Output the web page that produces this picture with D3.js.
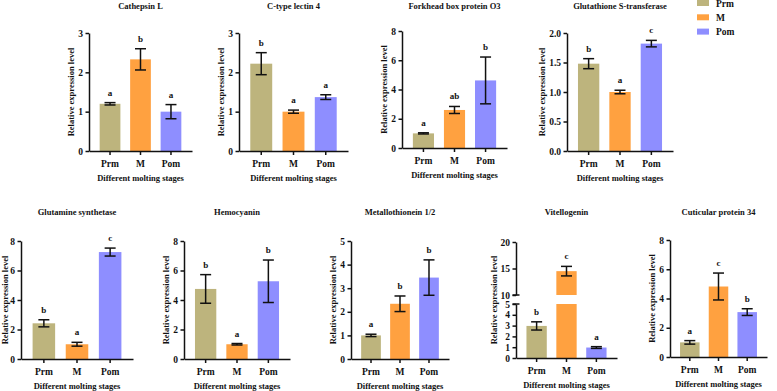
<!DOCTYPE html>
<html>
<head>
<meta charset="utf-8">
<script src="https://cdn.jsdelivr.net/npm/d3@7"></script>
<style>
  body { margin: 0; background: #fff; }
  svg text { font-family: "Liberation Serif", "Times New Roman", serif; font-weight: bold; fill: #111; }
</style>
</head>
<body>
<div id="chart"></div>
<script>
const stages = ['Prm', 'M', 'Pom']
const colors = ['#bdb47d', '#ffa140', '#8e8eff']

const genes = ['Cathepsin L', 'C-type lectin 4', 'Forkhead box protein O3', 'Glutathione S-transferase',
  'Glutamine synthetase', 'Hemocyanin', 'Metallothionein 1/2', 'Vitellogenin', 'Cuticular protein 34']

// mean per stage (Prm, M, Pom)
const means = [
  [1.2, 2.33, 1.0],
  [2.22, 1.0, 1.37],
  [1.0, 2.6, 4.62],
  [1.48, 1.0, 1.82],
  [2.42, 1.0, 7.25],
  [4.75, 1.0, 5.27],
  [1.0, 2.34, 3.45],
  [2.97, 14.5, 0.97],
  [1.0, 4.82, 3.07]
]
// error (+/-)
const errs = [
  [0.03, 0.27, 0.18],
  [0.28, 0.04, 0.06],
  [0.04, 0.24, 1.6],
  [0.085, 0.03, 0.055],
  [0.24, 0.13, 0.27],
  [0.97, 0.05, 1.44],
  [0.05, 0.33, 0.75],
  [0.38, 0.9, 0.08],
  [0.12, 0.92, 0.23]
]
const letters = [
  ['a', 'b', 'a'], ['b', 'a', 'a'], ['a', 'ab', 'b'], ['b', 'a', 'c'],
  ['b', 'a', 'c'], ['b', 'a', 'b'], ['a', 'b', 'b'], ['b', 'c', 'a'], ['a', 'c', 'b']
]
const yMax = [3, 3, 8, 2, 8, 8, 5, 20, 8]
const yTicks = [
  [0, 1, 2, 3], [0, 1, 2, 3], [0, 2, 4, 6, 8], [0, 0.5, 1, 1.5, 2],
  [0, 2, 4, 6, 8], [0, 2, 4, 6, 8], [0, 1, 2, 3, 4, 5], null, [0, 2, 4, 6, 8]
]
// broken axis for Vitellogenin
const lowTicks = [0, 1, 2, 3, 4, 5]
const highTicks = [10, 15, 20]

// panel layout: axis x start/end, y top/bottom, title baseline
const layout = [
  { x0: 89, x1: 192, top: 33, bot: 151, ty: 9 },
  { x0: 239, x1: 348, top: 33, bot: 151, ty: 9 },
  { x0: 402, x1: 507, top: 31, bot: 148, ty: 9 },
  { x0: 567, x1: 673, top: 33, bot: 151, ty: 9 },
  { x0: 21, x1: 133, top: 241, bot: 359, ty: 215 },
  { x0: 184, x1: 290, top: 241, bot: 359, ty: 215 },
  { x0: 351, x1: 449, top: 241, bot: 359, ty: 215 },
  { x0: 516, x1: 617, top: 242, bot: 358, ty: 215 },
  { x0: 670, x1: 767, top: 240, bot: 357, ty: 215 }
]

const svg = d3.select('#chart').append('svg')
  .attr('width', 777).attr('height', 391)

genes.forEach((gene, i) => {
  const L = layout[i]
  const g = svg.append('g')
  const x = d3.scaleBand().domain(stages).range([L.x0, L.x1]).paddingInner(0.32).paddingOuter(0.35)

  const broken = i === 7
  const yAxisG = g.append('g')
  let yTop // value -> pixel for error bars and letters
  if (!broken) {
    const y = d3.scaleLinear().domain([0, yMax[i]]).range([L.bot, L.top])
    yTop = y
    g.selectAll('.bar').data(stages).enter().append('rect')
      .attr('x', d => x(d)).attr('width', x.bandwidth())
      .attr('y', (d, j) => y(means[i][j]))
      .attr('height', (d, j) => L.bot - y(means[i][j]))
      .attr('fill', (d, j) => colors[j])
    yAxisG.append('g').attr('transform', `translate(${L.x0},0)`)
      .call(d3.axisLeft(y).tickValues(yTicks[i]).tickSize(3.5).tickPadding(2.5).tickSizeOuter(0)
        .tickFormat(i === 3 ? d3.format('.1f') : d3.format('d')))
  } else {
    const yLow = d3.scaleLinear().domain([0, 5]).range([L.bot, 304])
    const yHigh = d3.scaleLinear().domain([10, 20]).range([295, L.top])
    yTop = v => v > 7.5 ? yHigh(v) : yLow(v)
    stages.forEach((s, j) => {
      const v = means[i][j]
      g.append('rect').attr('x', x(s)).attr('width', x.bandwidth())
        .attr('y', yLow(Math.min(v, 5))).attr('height', L.bot - yLow(Math.min(v, 5)))
        .attr('fill', colors[j])
      if (v > 10) {
        g.append('rect').attr('x', x(s)).attr('width', x.bandwidth())
          .attr('y', yHigh(v)).attr('height', yHigh(10) - yHigh(v))
          .attr('fill', colors[j])
      }
    })
    yAxisG.append('g').attr('transform', `translate(${L.x0},0)`)
      .call(d3.axisLeft(yLow).tickValues(lowTicks).tickSize(3.5).tickPadding(2.5).tickSizeOuter(0).tickFormat(d3.format('d')))
    yAxisG.append('g').attr('transform', `translate(${L.x0},0)`)
      .call(d3.axisLeft(yHigh).tickValues(highTicks).tickSize(3.5).tickPadding(2.5).tickSizeOuter(0).tickFormat(d3.format('d')))
    // small caps at the break
    yAxisG.append('line').attr('x1', L.x0 - 3.5).attr('x2', L.x0 + 3.5)
      .attr('y1', yHigh(10)).attr('y2', yHigh(10))
    yAxisG.append('line').attr('x1', L.x0 - 3.5).attr('x2', L.x0 + 3.5)
      .attr('y1', yLow(5)).attr('y2', yLow(5))
  }
  yAxisG.selectAll('text').attr('font-size', 9.5)
  yAxisG.selectAll('.domain, line').attr('stroke', '#111').attr('stroke-width', 1.5)

  const xAxisG = g.append('g').attr('transform', `translate(0,${L.bot})`)
    .call(d3.axisBottom(x).tickSize(4).tickSizeOuter(0))
  xAxisG.selectAll('text').attr('font-size', 9.5).attr('dy', '0.95em')
  xAxisG.selectAll('.domain, line').attr('stroke', '#111').attr('stroke-width', 1.5)

  // error bars
  stages.forEach((s, j) => {
    const cx = x(s) + x.bandwidth() / 2
    const hi = yTop(means[i][j] + errs[i][j])
    const lo = yTop(means[i][j] - errs[i][j])
    const cw = 5.5
    const eb = g.append('g').attr('stroke', '#111').attr('stroke-width', 1.5)
    eb.append('line').attr('x1', cx).attr('x2', cx).attr('y1', hi).attr('y2', lo)
    eb.append('line').attr('x1', cx - cw).attr('x2', cx + cw).attr('y1', hi).attr('y2', hi)
    eb.append('line').attr('x1', cx - cw).attr('x2', cx + cw).attr('y1', lo).attr('y2', lo)
    g.append('text').attr('x', cx).attr('y', hi - 7)
      .attr('text-anchor', 'middle').attr('font-size', 9).text(letters[i][j])
  })

  const midX = (L.x0 + L.x1) / 2
  g.append('text').attr('x', midX).attr('y', L.ty)
    .attr('text-anchor', 'middle').attr('font-size', 8.5).text(gene)
  g.append('text').attr('x', midX).attr('y', L.bot + 30)
    .attr('text-anchor', 'middle').attr('font-size', 8.5).text('Different molting stages')

  const bb = yAxisG.node().getBBox()
  g.append('text')
    .attr('transform', `translate(${Math.max(bb.x - 4, 8)},${(L.top + L.bot) / 2}) rotate(-90)`)
    .attr('text-anchor', 'middle').attr('font-size', 8.5).text('Relative expression level')
})

// legend
const legend = svg.append('g').attr('transform', 'translate(697,0)')
stages.forEach((s, j) => {
  const row = legend.append('g').attr('transform', `translate(0,${3 + j * 14.3})`)
  row.append('rect').attr('x', 0).attr('y', -3).attr('width', 12).attr('height', 6).attr('fill', colors[j])
  row.append('text').attr('x', 19).attr('y', 3.5).attr('font-size', 9.5).text(s)
})
</script>
</body>
</html>
